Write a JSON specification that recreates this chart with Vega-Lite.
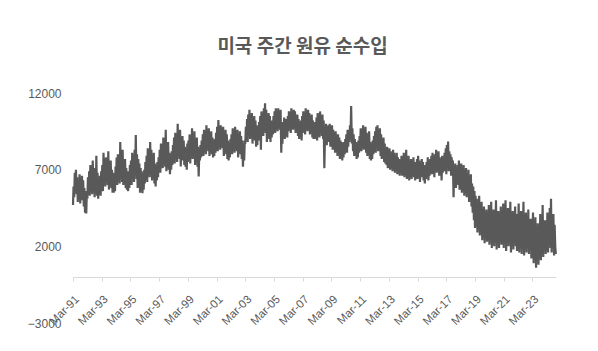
{
"$schema":"https://vega.github.io/schema/vega-lite/v6.json",
"width":483,"height":230,
"autosize":{"type":"none"},
"padding":{"left":73,"top":93,"right":42,"bottom":28},
"background":"white",
"title":{"text":"미국 주간 원유 순수입","font":"Noto Sans CJK KR","fontSize":19,"fontWeight":"bold","color":"#595959","anchor":"middle","dx":-12,"offset":30},
"config":{"view":{"stroke":null}},
"data":{"values":[
{"d":"1991-03-01","v":4700},{"d":"1991-03-15","v":5900},{"d":"1991-04-01","v":5200},{"d":"1991-04-15","v":6800},{"d":"1991-05-01","v":5600},{"d":"1991-05-15","v":7000},{"d":"1991-06-01","v":5400},{"d":"1991-06-15","v":6500},{"d":"1991-07-01","v":4900},{"d":"1991-07-15","v":6200},{"d":"1991-08-01","v":5300},{"d":"1991-08-15","v":6700},{"d":"1991-09-01","v":4800},{"d":"1991-09-15","v":6000},{"d":"1991-10-01","v":5500},{"d":"1991-10-15","v":6600},{"d":"1991-11-01","v":5000},{"d":"1991-11-15","v":6300},{"d":"1991-12-01","v":4600},{"d":"1991-12-15","v":5800},
{"d":"1992-01-01","v":4200},{"d":"1992-01-15","v":5600},{"d":"1992-02-01","v":4150},{"d":"1992-02-15","v":5400},{"d":"1992-03-01","v":5100},{"d":"1992-03-15","v":6500},{"d":"1992-04-01","v":5500},{"d":"1992-04-15","v":6900},{"d":"1992-05-01","v":5300},{"d":"1992-05-15","v":7300},{"d":"1992-06-01","v":5800},{"d":"1992-06-15","v":7000},{"d":"1992-07-01","v":5400},{"d":"1992-07-15","v":7600},{"d":"1992-08-01","v":6000},{"d":"1992-08-15","v":7100},{"d":"1992-09-01","v":5200},{"d":"1992-09-15","v":6600},{"d":"1992-10-01","v":5700},{"d":"1992-10-15","v":7900},{"d":"1992-11-01","v":5300},{"d":"1992-11-15","v":6800},{"d":"1992-12-01","v":5100},{"d":"1992-12-15","v":6400},
{"d":"1993-01-01","v":5400},{"d":"1993-01-15","v":6600},{"d":"1993-02-01","v":5300},{"d":"1993-02-15","v":6900},{"d":"1993-03-01","v":6100},{"d":"1993-03-15","v":7300},{"d":"1993-04-01","v":5600},{"d":"1993-04-15","v":8100},{"d":"1993-05-01","v":6300},{"d":"1993-05-15","v":7400},{"d":"1993-06-01","v":5900},{"d":"1993-06-15","v":7800},{"d":"1993-07-01","v":6500},{"d":"1993-07-15","v":7500},{"d":"1993-08-01","v":6000},{"d":"1993-08-15","v":8200},{"d":"1993-09-01","v":5700},{"d":"1993-09-15","v":7100},{"d":"1993-10-01","v":6300},{"d":"1993-10-15","v":7600},{"d":"1993-11-01","v":5800},{"d":"1993-11-15","v":7000},{"d":"1993-12-01","v":5500},{"d":"1993-12-15","v":6800},
{"d":"1994-01-01","v":5500},{"d":"1994-01-15","v":6700},{"d":"1994-02-01","v":5600},{"d":"1994-02-15","v":7200},{"d":"1994-03-01","v":6200},{"d":"1994-03-15","v":7800},{"d":"1994-04-01","v":6000},{"d":"1994-04-15","v":8000},{"d":"1994-05-01","v":6600},{"d":"1994-05-15","v":7500},{"d":"1994-06-01","v":6100},{"d":"1994-06-15","v":8800},{"d":"1994-07-01","v":6700},{"d":"1994-07-15","v":7900},{"d":"1994-08-01","v":6200},{"d":"1994-08-15","v":8300},{"d":"1994-09-01","v":6000},{"d":"1994-09-15","v":7400},{"d":"1994-10-01","v":6500},{"d":"1994-10-15","v":7700},{"d":"1994-11-01","v":5800},{"d":"1994-11-15","v":7100},{"d":"1994-12-01","v":5700},{"d":"1994-12-15","v":6900},
{"d":"1995-01-01","v":5600},{"d":"1995-01-15","v":6800},{"d":"1995-02-01","v":5800},{"d":"1995-02-15","v":7300},{"d":"1995-03-01","v":6300},{"d":"1995-03-15","v":7600},{"d":"1995-04-01","v":6000},{"d":"1995-04-15","v":8100},{"d":"1995-05-01","v":6500},{"d":"1995-05-15","v":7800},{"d":"1995-06-01","v":6200},{"d":"1995-06-15","v":8300},{"d":"1995-07-01","v":6800},{"d":"1995-07-15","v":9260},{"d":"1995-08-01","v":6400},{"d":"1995-08-15","v":8000},{"d":"1995-09-01","v":5800},{"d":"1995-09-15","v":7700},{"d":"1995-10-01","v":6600},{"d":"1995-10-15","v":7400},{"d":"1995-11-01","v":5500},{"d":"1995-11-15","v":7100},{"d":"1995-12-01","v":5900},{"d":"1995-12-15","v":6900},
{"d":"1996-01-01","v":5460},{"d":"1996-01-15","v":6700},{"d":"1996-02-01","v":5700},{"d":"1996-02-15","v":7000},{"d":"1996-03-01","v":6100},{"d":"1996-03-15","v":7500},{"d":"1996-04-01","v":6400},{"d":"1996-04-15","v":7900},{"d":"1996-05-01","v":6200},{"d":"1996-05-15","v":8400},{"d":"1996-06-01","v":6800},{"d":"1996-06-15","v":8000},{"d":"1996-07-01","v":6500},{"d":"1996-07-15","v":8800},{"d":"1996-08-01","v":7000},{"d":"1996-08-15","v":8300},{"d":"1996-09-01","v":6300},{"d":"1996-09-15","v":7600},{"d":"1996-10-01","v":6800},{"d":"1996-10-15","v":8100},{"d":"1996-11-01","v":6100},{"d":"1996-11-15","v":7400},{"d":"1996-12-01","v":5900},{"d":"1996-12-15","v":7200},
{"d":"1997-01-01","v":6300},{"d":"1997-01-15","v":7500},{"d":"1997-02-01","v":6500},{"d":"1997-02-15","v":7800},{"d":"1997-03-01","v":7000},{"d":"1997-03-15","v":8300},{"d":"1997-04-01","v":6800},{"d":"1997-04-15","v":8700},{"d":"1997-05-01","v":7300},{"d":"1997-05-15","v":8400},{"d":"1997-06-01","v":7100},{"d":"1997-06-15","v":9100},{"d":"1997-07-01","v":7600},{"d":"1997-07-15","v":8600},{"d":"1997-08-01","v":7200},{"d":"1997-08-15","v":9600},{"d":"1997-09-01","v":6900},{"d":"1997-09-15","v":8200},{"d":"1997-10-01","v":7400},{"d":"1997-10-15","v":8800},{"d":"1997-11-01","v":7000},{"d":"1997-11-15","v":8100},{"d":"1997-12-01","v":6700},{"d":"1997-12-15","v":7900},
{"d":"1998-01-01","v":7000},{"d":"1998-01-15","v":8200},{"d":"1998-02-01","v":7300},{"d":"1998-02-15","v":8600},{"d":"1998-03-01","v":7700},{"d":"1998-03-15","v":9100},{"d":"1998-04-01","v":7400},{"d":"1998-04-15","v":9400},{"d":"1998-05-01","v":7900},{"d":"1998-05-15","v":9000},{"d":"1998-06-01","v":7500},{"d":"1998-06-15","v":10000},{"d":"1998-07-01","v":8100},{"d":"1998-07-15","v":9300},{"d":"1998-08-01","v":7700},{"d":"1998-08-15","v":9600},{"d":"1998-09-01","v":7200},{"d":"1998-09-15","v":8800},{"d":"1998-10-01","v":8000},{"d":"1998-10-15","v":9200},{"d":"1998-11-01","v":7600},{"d":"1998-11-15","v":8900},{"d":"1998-12-01","v":7300},{"d":"1998-12-15","v":8500},
{"d":"1999-01-01","v":7200},{"d":"1999-01-15","v":8400},{"d":"1999-02-01","v":7000},{"d":"1999-02-15","v":8700},{"d":"1999-03-01","v":7500},{"d":"1999-03-15","v":8900},{"d":"1999-04-01","v":7800},{"d":"1999-04-15","v":9300},{"d":"1999-05-01","v":7400},{"d":"1999-05-15","v":9000},{"d":"1999-06-01","v":8000},{"d":"1999-06-15","v":9700},{"d":"1999-07-01","v":7700},{"d":"1999-07-15","v":9200},{"d":"1999-08-01","v":8100},{"d":"1999-08-15","v":9500},{"d":"1999-09-01","v":7300},{"d":"1999-09-15","v":8800},{"d":"1999-10-01","v":7800},{"d":"1999-10-15","v":9100},{"d":"1999-11-01","v":7200},{"d":"1999-11-15","v":8500},{"d":"1999-12-01","v":6550},{"d":"1999-12-15","v":8000},
{"d":"2000-01-01","v":7600},{"d":"2000-01-15","v":8600},{"d":"2000-02-01","v":7800},{"d":"2000-02-15","v":8900},{"d":"2000-03-01","v":8100},{"d":"2000-03-15","v":9300},{"d":"2000-04-01","v":7900},{"d":"2000-04-15","v":9600},{"d":"2000-05-01","v":8300},{"d":"2000-05-15","v":9200},{"d":"2000-06-01","v":8000},{"d":"2000-06-15","v":9900},{"d":"2000-07-01","v":8500},{"d":"2000-07-15","v":9400},{"d":"2000-08-01","v":8200},{"d":"2000-08-15","v":9700},{"d":"2000-09-01","v":7900},{"d":"2000-09-15","v":9000},{"d":"2000-10-01","v":8400},{"d":"2000-10-15","v":9500},{"d":"2000-11-01","v":8000},{"d":"2000-11-15","v":9100},{"d":"2000-12-01","v":7800},{"d":"2000-12-15","v":8800},
{"d":"2001-01-01","v":7900},{"d":"2001-01-15","v":9000},{"d":"2001-02-01","v":8100},{"d":"2001-02-15","v":9400},{"d":"2001-03-01","v":8400},{"d":"2001-03-15","v":9800},{"d":"2001-04-01","v":8200},{"d":"2001-04-15","v":10240},{"d":"2001-05-01","v":8600},{"d":"2001-05-15","v":9700},{"d":"2001-06-01","v":8300},{"d":"2001-06-15","v":9900},{"d":"2001-07-01","v":8700},{"d":"2001-07-15","v":9500},{"d":"2001-08-01","v":8400},{"d":"2001-08-15","v":9800},{"d":"2001-09-01","v":7900},{"d":"2001-09-15","v":9200},{"d":"2001-10-01","v":8500},{"d":"2001-10-15","v":9600},{"d":"2001-11-01","v":8000},{"d":"2001-11-15","v":9300},{"d":"2001-12-01","v":7700},{"d":"2001-12-15","v":8900},
{"d":"2002-01-01","v":7600},{"d":"2002-01-15","v":8700},{"d":"2002-02-01","v":7800},{"d":"2002-02-15","v":9000},{"d":"2002-03-01","v":8200},{"d":"2002-03-15","v":9300},{"d":"2002-04-01","v":8000},{"d":"2002-04-15","v":9700},{"d":"2002-05-01","v":8400},{"d":"2002-05-15","v":9400},{"d":"2002-06-01","v":8100},{"d":"2002-06-15","v":9800},{"d":"2002-07-01","v":8500},{"d":"2002-07-15","v":9300},{"d":"2002-08-01","v":8200},{"d":"2002-08-15","v":9600},{"d":"2002-09-01","v":7800},{"d":"2002-09-15","v":9100},{"d":"2002-10-01","v":8300},{"d":"2002-10-15","v":9500},{"d":"2002-11-01","v":8000},{"d":"2002-11-15","v":9200},{"d":"2002-12-01","v":7700},{"d":"2002-12-15","v":8900},
{"d":"2003-01-01","v":7200},{"d":"2003-01-15","v":8500},{"d":"2003-02-01","v":7600},{"d":"2003-02-15","v":8900},{"d":"2003-03-01","v":8700},{"d":"2003-03-15","v":9800},{"d":"2003-04-01","v":9000},{"d":"2003-04-15","v":10300},{"d":"2003-05-01","v":8800},{"d":"2003-05-15","v":10600},{"d":"2003-06-01","v":9300},{"d":"2003-06-15","v":10900},{"d":"2003-07-01","v":9000},{"d":"2003-07-15","v":10400},{"d":"2003-08-01","v":9400},{"d":"2003-08-15","v":10700},{"d":"2003-09-01","v":8700},{"d":"2003-09-15","v":10100},{"d":"2003-10-01","v":9200},{"d":"2003-10-15","v":10500},{"d":"2003-11-01","v":8900},{"d":"2003-11-15","v":10200},{"d":"2003-12-01","v":8500},{"d":"2003-12-15","v":9900},
{"d":"2004-01-01","v":8600},{"d":"2004-01-15","v":9800},{"d":"2004-02-01","v":8900},{"d":"2004-02-15","v":10100},{"d":"2004-03-01","v":9300},{"d":"2004-03-15","v":10500},{"d":"2004-04-01","v":8300},{"d":"2004-04-15","v":10800},{"d":"2004-05-01","v":9500},{"d":"2004-05-15","v":10600},{"d":"2004-06-01","v":9200},{"d":"2004-06-15","v":11000},{"d":"2004-07-01","v":9700},{"d":"2004-07-15","v":11330},{"d":"2004-08-01","v":9400},{"d":"2004-08-15","v":10900},{"d":"2004-09-01","v":8800},{"d":"2004-09-15","v":10300},{"d":"2004-10-01","v":9300},{"d":"2004-10-15","v":10700},{"d":"2004-11-01","v":9000},{"d":"2004-11-15","v":10500},{"d":"2004-12-01","v":8800},{"d":"2004-12-15","v":10200},
{"d":"2005-01-01","v":9100},{"d":"2005-01-15","v":10200},{"d":"2005-02-01","v":9300},{"d":"2005-02-15","v":10500},{"d":"2005-03-01","v":9600},{"d":"2005-03-15","v":10800},{"d":"2005-04-01","v":9400},{"d":"2005-04-15","v":11000},{"d":"2005-05-01","v":9800},{"d":"2005-05-15","v":10700},{"d":"2005-06-01","v":9500},{"d":"2005-06-15","v":11000},{"d":"2005-07-01","v":9900},{"d":"2005-07-15","v":10800},{"d":"2005-08-01","v":9600},{"d":"2005-08-15","v":10900},{"d":"2005-09-01","v":8100},{"d":"2005-09-15","v":9600},{"d":"2005-10-01","v":8700},{"d":"2005-10-15","v":10100},{"d":"2005-11-01","v":9200},{"d":"2005-11-15","v":10400},{"d":"2005-12-01","v":9000},{"d":"2005-12-15","v":10300},
{"d":"2006-01-01","v":9300},{"d":"2006-01-15","v":10300},{"d":"2006-02-01","v":9100},{"d":"2006-02-15","v":10500},{"d":"2006-03-01","v":9500},{"d":"2006-03-15","v":10800},{"d":"2006-04-01","v":9800},{"d":"2006-04-15","v":10600},{"d":"2006-05-01","v":9400},{"d":"2006-05-15","v":11000},{"d":"2006-06-01","v":9900},{"d":"2006-06-15","v":10700},{"d":"2006-07-01","v":9600},{"d":"2006-07-15","v":10900},{"d":"2006-08-01","v":10000},{"d":"2006-08-15","v":10800},{"d":"2006-09-01","v":9400},{"d":"2006-09-15","v":10500},{"d":"2006-10-01","v":9700},{"d":"2006-10-15","v":10600},{"d":"2006-11-01","v":9200},{"d":"2006-11-15","v":10300},{"d":"2006-12-01","v":9000},{"d":"2006-12-15","v":10100},
{"d":"2007-01-01","v":9200},{"d":"2007-01-15","v":10200},{"d":"2007-02-01","v":8900},{"d":"2007-02-15","v":10500},{"d":"2007-03-01","v":9400},{"d":"2007-03-15","v":10800},{"d":"2007-04-01","v":9600},{"d":"2007-04-15","v":10400},{"d":"2007-05-01","v":9300},{"d":"2007-05-15","v":11000},{"d":"2007-06-01","v":9800},{"d":"2007-06-15","v":10600},{"d":"2007-07-01","v":9500},{"d":"2007-07-15","v":10900},{"d":"2007-08-01","v":9900},{"d":"2007-08-15","v":10700},{"d":"2007-09-01","v":9300},{"d":"2007-09-15","v":10400},{"d":"2007-10-01","v":9500},{"d":"2007-10-15","v":10600},{"d":"2007-11-01","v":9100},{"d":"2007-11-15","v":10200},{"d":"2007-12-01","v":9000},{"d":"2007-12-15","v":10000},
{"d":"2008-01-01","v":9000},{"d":"2008-01-15","v":10100},{"d":"2008-02-01","v":9200},{"d":"2008-02-15","v":10400},{"d":"2008-03-01","v":8900},{"d":"2008-03-15","v":10700},{"d":"2008-04-01","v":9400},{"d":"2008-04-15","v":10300},{"d":"2008-05-01","v":9100},{"d":"2008-05-15","v":10800},{"d":"2008-06-01","v":9500},{"d":"2008-06-15","v":10400},{"d":"2008-07-01","v":9200},{"d":"2008-07-15","v":10600},{"d":"2008-08-01","v":9000},{"d":"2008-08-15","v":10200},{"d":"2008-09-01","v":7100},{"d":"2008-09-15","v":8900},{"d":"2008-10-01","v":8800},{"d":"2008-10-15","v":10000},{"d":"2008-11-01","v":8600},{"d":"2008-11-15","v":9700},{"d":"2008-12-01","v":8900},{"d":"2008-12-15","v":9900},
{"d":"2009-01-01","v":8800},{"d":"2009-01-15","v":10000},{"d":"2009-02-01","v":8500},{"d":"2009-02-15","v":9700},{"d":"2009-03-01","v":8700},{"d":"2009-03-15","v":9900},{"d":"2009-04-01","v":8300},{"d":"2009-04-15","v":9600},{"d":"2009-05-01","v":8600},{"d":"2009-05-15","v":9400},{"d":"2009-06-01","v":8100},{"d":"2009-06-15","v":9500},{"d":"2009-07-01","v":8400},{"d":"2009-07-15","v":9200},{"d":"2009-08-01","v":7900},{"d":"2009-08-15","v":9300},{"d":"2009-09-01","v":8200},{"d":"2009-09-15","v":9100},{"d":"2009-10-01","v":7700},{"d":"2009-10-15","v":8900},{"d":"2009-11-01","v":7900},{"d":"2009-11-15","v":8800},{"d":"2009-12-01","v":7600},{"d":"2009-12-15","v":8700},
{"d":"2010-01-01","v":7800},{"d":"2010-01-15","v":8800},{"d":"2010-02-01","v":8000},{"d":"2010-02-15","v":9000},{"d":"2010-03-01","v":8300},{"d":"2010-03-15","v":9300},{"d":"2010-04-01","v":8100},{"d":"2010-04-15","v":9600},{"d":"2010-05-01","v":8500},{"d":"2010-05-15","v":9400},{"d":"2010-06-01","v":8800},{"d":"2010-06-15","v":9900},{"d":"2010-07-01","v":9300},{"d":"2010-07-15","v":11150},{"d":"2010-08-01","v":8700},{"d":"2010-08-15","v":9700},{"d":"2010-09-01","v":8200},{"d":"2010-09-15","v":9300},{"d":"2010-10-01","v":7900},{"d":"2010-10-15","v":9000},{"d":"2010-11-01","v":8100},{"d":"2010-11-15","v":8800},{"d":"2010-12-01","v":7700},{"d":"2010-12-15","v":8600},
{"d":"2011-01-01","v":7800},{"d":"2011-01-15","v":8900},{"d":"2011-02-01","v":8100},{"d":"2011-02-15","v":9200},{"d":"2011-03-01","v":8400},{"d":"2011-03-15","v":9700},{"d":"2011-04-01","v":8200},{"d":"2011-04-15","v":9500},{"d":"2011-05-01","v":8600},{"d":"2011-05-15","v":9900},{"d":"2011-06-01","v":8300},{"d":"2011-06-15","v":9600},{"d":"2011-07-01","v":8700},{"d":"2011-07-15","v":9800},{"d":"2011-08-01","v":8100},{"d":"2011-08-15","v":9400},{"d":"2011-09-01","v":7900},{"d":"2011-09-15","v":9100},{"d":"2011-10-01","v":8300},{"d":"2011-10-15","v":9500},{"d":"2011-11-01","v":7700},{"d":"2011-11-15","v":8800},{"d":"2011-12-01","v":7600},{"d":"2011-12-15","v":8600},
{"d":"2012-01-01","v":7700},{"d":"2012-01-15","v":8900},{"d":"2012-02-01","v":8000},{"d":"2012-02-15","v":9200},{"d":"2012-03-01","v":8300},{"d":"2012-03-15","v":9500},{"d":"2012-04-01","v":8100},{"d":"2012-04-15","v":9800},{"d":"2012-05-01","v":8500},{"d":"2012-05-15","v":9900},{"d":"2012-06-01","v":8200},{"d":"2012-06-15","v":9600},{"d":"2012-07-01","v":8400},{"d":"2012-07-15","v":9700},{"d":"2012-08-01","v":7900},{"d":"2012-08-15","v":9300},{"d":"2012-09-01","v":7700},{"d":"2012-09-15","v":9000},{"d":"2012-10-01","v":7800},{"d":"2012-10-15","v":9100},{"d":"2012-11-01","v":7500},{"d":"2012-11-15","v":8700},{"d":"2012-12-01","v":7400},{"d":"2012-12-15","v":8400},
{"d":"2013-01-01","v":7300},{"d":"2013-01-15","v":8500},{"d":"2013-02-01","v":7100},{"d":"2013-02-15","v":8300},{"d":"2013-03-01","v":7400},{"d":"2013-03-15","v":8400},{"d":"2013-04-01","v":7000},{"d":"2013-04-15","v":8200},{"d":"2013-05-01","v":7300},{"d":"2013-05-15","v":8000},{"d":"2013-06-01","v":6900},{"d":"2013-06-15","v":8300},{"d":"2013-07-01","v":7200},{"d":"2013-07-15","v":8100},{"d":"2013-08-01","v":6800},{"d":"2013-08-15","v":7900},{"d":"2013-09-01","v":7000},{"d":"2013-09-15","v":8100},{"d":"2013-10-01","v":6700},{"d":"2013-10-15","v":7800},{"d":"2013-11-01","v":6900},{"d":"2013-11-15","v":7700},{"d":"2013-12-01","v":6600},{"d":"2013-12-15","v":7600},
{"d":"2014-01-01","v":6800},{"d":"2014-01-15","v":7900},{"d":"2014-02-01","v":6600},{"d":"2014-02-15","v":7700},{"d":"2014-03-01","v":6900},{"d":"2014-03-15","v":8100},{"d":"2014-04-01","v":6500},{"d":"2014-04-15","v":7800},{"d":"2014-05-01","v":6800},{"d":"2014-05-15","v":8300},{"d":"2014-06-01","v":6400},{"d":"2014-06-15","v":7600},{"d":"2014-07-01","v":6700},{"d":"2014-07-15","v":7900},{"d":"2014-08-01","v":6300},{"d":"2014-08-15","v":7500},{"d":"2014-09-01","v":6600},{"d":"2014-09-15","v":7700},{"d":"2014-10-01","v":6400},{"d":"2014-10-15","v":7400},{"d":"2014-11-01","v":6700},{"d":"2014-11-15","v":7800},{"d":"2014-12-01","v":6500},{"d":"2014-12-15","v":7500},
{"d":"2015-01-01","v":6300},{"d":"2015-01-15","v":7500},{"d":"2015-02-01","v":6600},{"d":"2015-02-15","v":7700},{"d":"2015-03-01","v":6400},{"d":"2015-03-15","v":7900},{"d":"2015-04-01","v":6700},{"d":"2015-04-15","v":7600},{"d":"2015-05-01","v":6200},{"d":"2015-05-15","v":7400},{"d":"2015-06-01","v":6500},{"d":"2015-06-15","v":7700},{"d":"2015-07-01","v":6800},{"d":"2015-07-15","v":7500},{"d":"2015-08-01","v":6300},{"d":"2015-08-15","v":7300},{"d":"2015-09-01","v":6100},{"d":"2015-09-15","v":7200},{"d":"2015-10-01","v":6400},{"d":"2015-10-15","v":7500},{"d":"2015-11-01","v":6600},{"d":"2015-11-15","v":7800},{"d":"2015-12-01","v":6300},{"d":"2015-12-15","v":7400},
{"d":"2016-01-01","v":6600},{"d":"2016-01-15","v":7700},{"d":"2016-02-01","v":6900},{"d":"2016-02-15","v":7900},{"d":"2016-03-01","v":6700},{"d":"2016-03-15","v":8100},{"d":"2016-04-01","v":7000},{"d":"2016-04-15","v":7800},{"d":"2016-05-01","v":6500},{"d":"2016-05-15","v":8000},{"d":"2016-06-01","v":7100},{"d":"2016-06-15","v":8300},{"d":"2016-07-01","v":6800},{"d":"2016-07-15","v":8100},{"d":"2016-08-01","v":7200},{"d":"2016-08-15","v":8200},{"d":"2016-09-01","v":6600},{"d":"2016-09-15","v":7800},{"d":"2016-10-01","v":6900},{"d":"2016-10-15","v":7600},{"d":"2016-11-01","v":6300},{"d":"2016-11-15","v":7900},{"d":"2016-12-01","v":6800},{"d":"2016-12-15","v":7700},
{"d":"2017-01-01","v":6900},{"d":"2017-01-15","v":8100},{"d":"2017-02-01","v":7100},{"d":"2017-02-15","v":8400},{"d":"2017-03-01","v":6700},{"d":"2017-03-15","v":8600},{"d":"2017-04-01","v":7300},{"d":"2017-04-15","v":8830},{"d":"2017-05-01","v":6900},{"d":"2017-05-15","v":8200},{"d":"2017-06-01","v":7200},{"d":"2017-06-15","v":8000},{"d":"2017-07-01","v":6600},{"d":"2017-07-15","v":7800},{"d":"2017-08-01","v":6900},{"d":"2017-08-15","v":7600},{"d":"2017-09-01","v":5200},{"d":"2017-09-15","v":6800},{"d":"2017-10-01","v":6100},{"d":"2017-10-15","v":7400},{"d":"2017-11-01","v":5800},{"d":"2017-11-15","v":7100},{"d":"2017-12-01","v":6200},{"d":"2017-12-15","v":7300},
{"d":"2018-01-01","v":6000},{"d":"2018-01-15","v":7600},{"d":"2018-02-01","v":5700},{"d":"2018-02-15","v":7200},{"d":"2018-03-01","v":6100},{"d":"2018-03-15","v":7400},{"d":"2018-04-01","v":5500},{"d":"2018-04-15","v":6900},{"d":"2018-05-01","v":5900},{"d":"2018-05-15","v":7300},{"d":"2018-06-01","v":5300},{"d":"2018-06-15","v":6800},{"d":"2018-07-01","v":5700},{"d":"2018-07-15","v":7100},{"d":"2018-08-01","v":5200},{"d":"2018-08-15","v":6600},{"d":"2018-09-01","v":5500},{"d":"2018-09-15","v":7000},{"d":"2018-10-01","v":4900},{"d":"2018-10-15","v":6400},{"d":"2018-11-01","v":5300},{"d":"2018-11-15","v":6700},{"d":"2018-12-01","v":4600},{"d":"2018-12-15","v":6100},
{"d":"2019-01-01","v":4200},{"d":"2019-01-15","v":5900},{"d":"2019-02-01","v":3700},{"d":"2019-02-15","v":5600},{"d":"2019-03-01","v":3200},{"d":"2019-03-15","v":5300},{"d":"2019-04-01","v":3800},{"d":"2019-04-15","v":5100},{"d":"2019-05-01","v":2900},{"d":"2019-05-15","v":4700},{"d":"2019-06-01","v":3500},{"d":"2019-06-15","v":5300},{"d":"2019-07-01","v":2700},{"d":"2019-07-15","v":4500},{"d":"2019-08-01","v":3100},{"d":"2019-08-15","v":4900},{"d":"2019-09-01","v":2400},{"d":"2019-09-15","v":4300},{"d":"2019-10-01","v":2900},{"d":"2019-10-15","v":4600},{"d":"2019-11-01","v":2200},{"d":"2019-11-15","v":4100},{"d":"2019-12-01","v":2700},{"d":"2019-12-15","v":4400},
{"d":"2020-01-01","v":2300},{"d":"2020-01-15","v":4000},{"d":"2020-02-01","v":2900},{"d":"2020-02-15","v":4700},{"d":"2020-03-01","v":2100},{"d":"2020-03-15","v":4200},{"d":"2020-04-01","v":2600},{"d":"2020-04-15","v":4900},{"d":"2020-05-01","v":1900},{"d":"2020-05-15","v":3800},{"d":"2020-06-01","v":2400},{"d":"2020-06-15","v":4400},{"d":"2020-07-01","v":2000},{"d":"2020-07-15","v":3700},{"d":"2020-08-01","v":2600},{"d":"2020-08-15","v":5000},{"d":"2020-09-01","v":1800},{"d":"2020-09-15","v":3600},{"d":"2020-10-01","v":2300},{"d":"2020-10-15","v":4300},{"d":"2020-11-01","v":1900},{"d":"2020-11-15","v":3900},{"d":"2020-12-01","v":2500},{"d":"2020-12-15","v":4600},
{"d":"2021-01-01","v":2100},{"d":"2021-01-15","v":4100},{"d":"2021-02-01","v":2700},{"d":"2021-02-15","v":4800},{"d":"2021-03-01","v":1900},{"d":"2021-03-15","v":3900},{"d":"2021-04-01","v":2500},{"d":"2021-04-15","v":5000},{"d":"2021-05-01","v":1700},{"d":"2021-05-15","v":3700},{"d":"2021-06-01","v":2400},{"d":"2021-06-15","v":4500},{"d":"2021-07-01","v":2000},{"d":"2021-07-15","v":4200},{"d":"2021-08-01","v":2700},{"d":"2021-08-15","v":4900},{"d":"2021-09-01","v":1600},{"d":"2021-09-15","v":3600},{"d":"2021-10-01","v":2300},{"d":"2021-10-15","v":4300},{"d":"2021-11-01","v":1800},{"d":"2021-11-15","v":4000},{"d":"2021-12-01","v":2500},{"d":"2021-12-15","v":4600},
{"d":"2022-01-01","v":2000},{"d":"2022-01-15","v":4100},{"d":"2022-02-01","v":1700},{"d":"2022-02-15","v":3900},{"d":"2022-03-01","v":2500},{"d":"2022-03-15","v":4800},{"d":"2022-04-01","v":1600},{"d":"2022-04-15","v":3600},{"d":"2022-05-01","v":2200},{"d":"2022-05-15","v":4300},{"d":"2022-06-01","v":1500},{"d":"2022-06-15","v":3500},{"d":"2022-07-01","v":2400},{"d":"2022-07-15","v":4900},{"d":"2022-08-01","v":1400},{"d":"2022-08-15","v":3400},{"d":"2022-09-01","v":2100},{"d":"2022-09-15","v":4200},{"d":"2022-10-01","v":1600},{"d":"2022-10-15","v":3700},{"d":"2022-11-01","v":2300},{"d":"2022-11-15","v":4400},{"d":"2022-12-01","v":1500},{"d":"2022-12-15","v":3600},
{"d":"2023-01-01","v":1900},{"d":"2023-01-15","v":3800},{"d":"2023-02-01","v":1200},{"d":"2023-02-15","v":3300},{"d":"2023-03-01","v":2100},{"d":"2023-03-15","v":4200},{"d":"2023-04-01","v":900},{"d":"2023-04-15","v":3000},{"d":"2023-05-01","v":1700},{"d":"2023-05-15","v":3900},{"d":"2023-06-01","v":600},{"d":"2023-06-15","v":2700},{"d":"2023-07-01","v":1500},{"d":"2023-07-15","v":3500},{"d":"2023-08-01","v":800},{"d":"2023-08-15","v":2900},{"d":"2023-09-01","v":1800},{"d":"2023-09-15","v":4100},{"d":"2023-10-01","v":1100},{"d":"2023-10-15","v":3200},{"d":"2023-11-01","v":2000},{"d":"2023-11-15","v":4700},{"d":"2023-12-01","v":1300},{"d":"2023-12-15","v":3400},
{"d":"2024-01-01","v":1800},{"d":"2024-01-15","v":3700},{"d":"2024-02-01","v":1500},{"d":"2024-02-15","v":3300},{"d":"2024-03-01","v":2200},{"d":"2024-03-15","v":4200},{"d":"2024-04-01","v":1600},{"d":"2024-04-15","v":3600},{"d":"2024-05-01","v":2400},{"d":"2024-05-15","v":4500},{"d":"2024-06-01","v":1900},{"d":"2024-06-15","v":5100},{"d":"2024-07-01","v":1600},{"d":"2024-07-15","v":3500},{"d":"2024-08-01","v":2300},{"d":"2024-08-15","v":4100},{"d":"2024-09-01","v":1400},{"d":"2024-09-15","v":3400},{"d":"2024-10-01","v":2000},{"d":"2024-10-15","v":1500}
]},
"mark":{"type":"line","color":"#595959","strokeWidth":2.2,"strokeJoin":"miter","clip":false},
"encoding":{
"x":{"field":"d","type":"temporal",
"scale":{"type":"utc","domain":[{"year":1991,"month":3,"date":1,"utc":true},{"year":2024,"month":10,"date":20,"utc":true}]},
"axis":{"title":null,"format":"%b-%y","values":[{"year":1991,"month":3,"date":1,"utc":true},{"year":1993,"month":3,"date":1,"utc":true},{"year":1995,"month":3,"date":1,"utc":true},{"year":1997,"month":3,"date":1,"utc":true},{"year":1999,"month":3,"date":1,"utc":true},{"year":2001,"month":3,"date":1,"utc":true},{"year":2003,"month":3,"date":1,"utc":true},{"year":2005,"month":3,"date":1,"utc":true},{"year":2007,"month":3,"date":1,"utc":true},{"year":2009,"month":3,"date":1,"utc":true},{"year":2011,"month":3,"date":1,"utc":true},{"year":2013,"month":3,"date":1,"utc":true},{"year":2015,"month":3,"date":1,"utc":true},{"year":2017,"month":3,"date":1,"utc":true},{"year":2019,"month":3,"date":1,"utc":true},{"year":2021,"month":3,"date":1,"utc":true},{"year":2023,"month":3,"date":1,"utc":true}],
"offset":-46,"grid":false,"domainColor":"#d9d9d9","domainWidth":1,"tickColor":"#d9d9d9","tickSize":4,"labelAngle":-45,"labelAlign":"right","labelBaseline":"top","labelFont":"Liberation Sans","labelFontSize":11.5,"labelColor":"#595959","labelPadding":12,"labelOverlap":false,"labelFlush":false}},
"y":{"field":"v","type":"quantitative",
"scale":{"domain":[-3000,12000],"nice":false,"zero":false},
"axis":{"title":null,"values":[-3000,2000,7000,12000],"grid":false,"domain":false,"ticks":false,"labelPadding":12,"labelFont":"Liberation Sans","labelFontSize":12,"labelColor":"#595959","format":"d"}}
}
}
